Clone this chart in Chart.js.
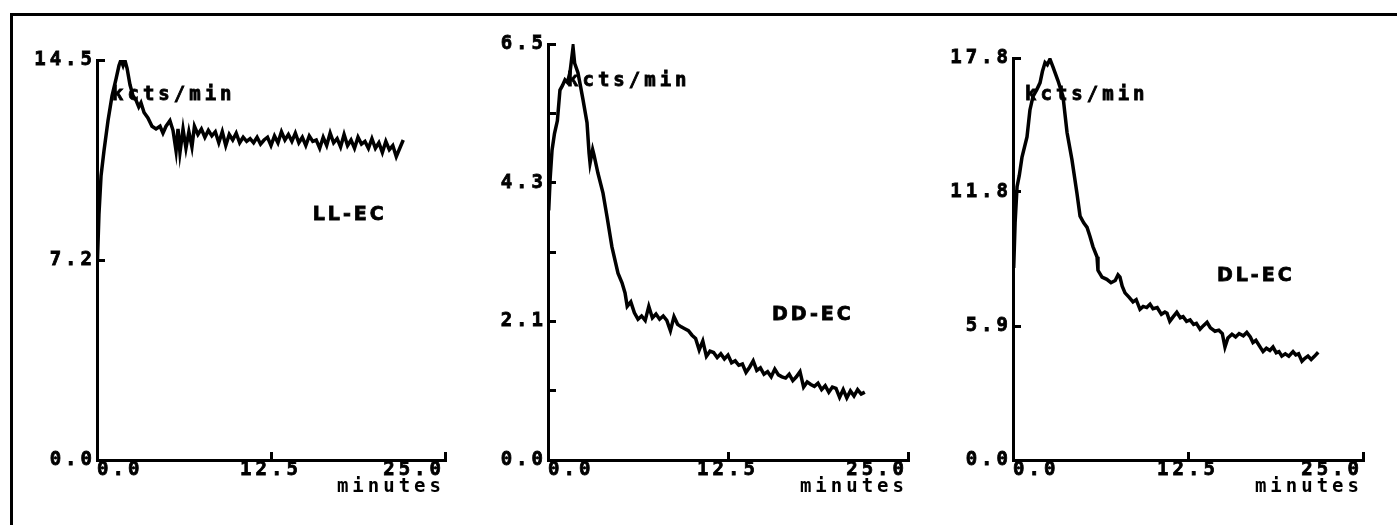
<!DOCTYPE html>
<html>
<head>
<meta charset="utf-8">
<script src="https://cdn.jsdelivr.net/npm/chart.js@4.4.1/dist/chart.umd.min.js"></script>
<style>
  body { margin: 0; background: #fff; width: 1397px; height: 525px; overflow: hidden; position: relative; }
  #frame { position: absolute; left: 10px; top: 13px; width: 1400px; height: 600px; border-left: 3px solid #000; border-top: 3px solid #000; }
  canvas { position: absolute; top: 0; }
</style>
</head>
<body>
<div id="frame"></div>
<canvas id="c1" width="468" height="525" style="left:2px"></canvas>
<canvas id="c2" width="480" height="525" style="left:453px"></canvas>
<canvas id="c3" width="470" height="525" style="left:918px"></canvas>
<script>
// x axis (minutes), shared by the three panels
const xTicks = [0, 12.5, 25];
const xTickLabels = ['0.0', '12.5', '25.0'];

// LL-EC
const llTimes = [0.03, 0.14, 0.29, 0.5, 0.79, 1.08, 1.36, 1.58, 1.72, 1.87, 2.0, 2.16, 2.37, 2.59, 2.8,
  3.0, 3.16, 3.38, 3.66, 3.95, 4.24, 4.53, 4.74, 4.96, 5.24, 5.46, 5.68, 5.82, 5.96, 6.18, 6.39, 6.6, 6.82,
  7.0, 7.25, 7.5, 7.75, 8.0, 8.25, 8.5, 8.75, 9.0, 9.25, 9.5, 9.75, 10.0, 10.25, 10.5, 10.75,
  11.0, 11.25, 11.5, 11.75, 12.0, 12.25, 12.5, 12.75, 13.0, 13.25, 13.5, 13.75, 14.0, 14.25, 14.5, 14.75,
  15.0, 15.25, 15.5, 15.75, 16.0, 16.25, 16.5, 16.75, 17.0, 17.25, 17.5, 17.75, 18.0, 18.25, 18.5, 18.75,
  19.0, 19.25, 19.5, 19.75, 20.0, 20.25, 20.5, 20.75, 21.0, 21.25, 21.5, 21.75, 22.0];
const llValues = [7.2, 8.9, 10.3, 11.2, 12.3, 13.2, 13.8, 14.3, 14.5, 14.3, 14.5, 14.2, 13.6, 13.2, 13.05,
  12.8, 12.95, 12.6, 12.4, 12.1, 12.0, 12.1, 11.85, 12.1, 12.3, 11.95, 11.2, 12.0, 11.15, 12.0, 11.3, 11.9, 11.35,
  12.1, 11.8, 12.0, 11.7, 11.95, 11.75, 11.9, 11.5, 11.9, 11.4, 11.8, 11.6, 11.85, 11.5, 11.7, 11.55,
  11.65, 11.5, 11.7, 11.45, 11.6, 11.7, 11.4, 11.75, 11.5, 11.9, 11.6, 11.8, 11.55, 11.85, 11.5, 11.7,
  11.4, 11.75, 11.55, 11.6, 11.3, 11.7, 11.4, 11.85, 11.5, 11.65, 11.35, 11.8, 11.4, 11.6, 11.3, 11.7,
  11.45, 11.55, 11.3, 11.65, 11.3, 11.5, 11.15, 11.55, 11.25, 11.4, 11.0, 11.3, 11.6];
const llYTicks = [0, 7.25, 14.5];
const llYLabels = ['0.0', '7.2', '14.5'];

// DD-EC
const ddTimes = [0.05, 0.15, 0.28, 0.45, 0.65, 0.83, 1.0, 1.18, 1.35, 1.53, 1.74, 1.85, 2.08, 2.25, 2.43, 2.71,
  2.85, 2.92, 3.1, 3.19, 3.47, 3.82, 4.1, 4.44, 4.86, 5.14, 5.35,
  5.5, 5.75, 6.0, 6.25, 6.5, 6.75, 7.0, 7.25, 7.5, 7.75, 8.0, 8.25, 8.5, 8.75, 9.0, 9.25, 9.5, 9.75,
  10.0, 10.25, 10.5, 10.75, 11.0, 11.25, 11.5, 11.75, 12.0, 12.25, 12.5, 12.75, 13.0, 13.25, 13.5, 13.75,
  14.0, 14.25, 14.5, 14.75, 15.0, 15.25, 15.5, 15.75, 16.0, 16.25, 16.5, 16.75, 17.0, 17.25, 17.5, 17.75,
  18.0, 18.25, 18.5, 18.75, 19.0, 19.25, 19.5, 19.75, 20.0, 20.25, 20.5, 20.75, 21.0, 21.25, 21.5, 21.75, 22.0];
const ddValues = [3.9, 4.4, 4.84, 5.1, 5.3, 5.78, 5.85, 5.94, 5.9, 6.06, 6.45, 6.2, 6.05, 5.85, 5.63, 5.27,
  4.8, 4.64, 4.85, 4.77, 4.48, 4.17, 3.8, 3.33, 2.92, 2.77, 2.61,
  2.40, 2.47, 2.30, 2.20, 2.25, 2.18, 2.40, 2.22, 2.28, 2.20, 2.25, 2.18, 2.02, 2.24, 2.12, 2.08, 2.05, 2.02,
  1.95, 1.90, 1.72, 1.86, 1.62, 1.70, 1.68, 1.60, 1.66, 1.58, 1.64, 1.52, 1.55, 1.48, 1.50, 1.37,
  1.45, 1.55, 1.40, 1.44, 1.34, 1.38, 1.30, 1.42, 1.33, 1.30, 1.28, 1.34, 1.24, 1.30, 1.38, 1.14,
  1.22, 1.18, 1.15, 1.20, 1.10, 1.16, 1.06, 1.14, 1.12, 0.98, 1.10, 0.97, 1.08, 1.00, 1.10, 1.03, 1.06];
const ddYTicks = [0, 1.0833, 2.1667, 3.25, 4.3333, 5.4167, 6.5];
const ddYLabels = ['0.0', '', '2.1', '', '4.3', '', '6.5'];

// DL-EC
const dlTimes = [0.05, 0.15, 0.29, 0.45, 0.64, 1.0, 1.21, 1.43, 1.7, 1.93, 2.1, 2.29, 2.45, 2.64, 2.86, 3.21,
  3.57, 3.86, 4.21, 4.57, 4.79, 5.05, 5.29, 5.5, 5.71, 6.0, 6.07, 6.36, 6.7, 7.0, 7.3, 7.5, 7.64, 7.8,
  8.0, 8.3, 8.57, 8.8, 9.07, 9.3, 9.55, 9.79, 10.0, 10.3, 10.6, 10.85, 11.0, 11.2, 11.45, 11.7, 11.95,
  12.15, 12.4, 12.65, 12.9, 13.1, 13.36, 13.6, 13.86, 14.1, 14.43, 14.7, 14.95, 15.14, 15.35, 15.64, 15.9,
  16.15, 16.45, 16.7, 16.95, 17.14, 17.35, 17.6, 17.86, 18.1, 18.35, 18.57, 18.8, 19.0, 19.2, 19.45, 19.7,
  20.0, 20.2, 20.4, 20.64, 20.85, 21.07, 21.3, 21.55, 21.8];
const dlValues = [8.5, 10.5, 12.1, 12.6, 13.4, 14.3, 15.5, 16.1, 16.4, 16.7, 17.2, 17.6, 17.5, 17.75, 17.4, 16.8,
  16.1, 14.5, 13.3, 11.8, 10.8, 10.5, 10.3, 9.9, 9.45, 9.0, 8.4, 8.1, 8.0, 7.85, 7.95, 8.2, 8.1, 7.7,
  7.4, 7.2, 7.0, 7.1, 6.67, 6.8, 6.75, 6.9, 6.7, 6.75, 6.45, 6.55, 6.5, 6.14, 6.35, 6.54, 6.3,
  6.35, 6.14, 6.2, 6.0, 6.05, 5.79, 5.95, 6.1, 5.85, 5.7, 5.75, 5.6, 5.0, 5.4, 5.57, 5.45,
  5.6, 5.5, 5.65, 5.45, 5.2, 5.3, 5.05, 4.8, 4.95, 4.85, 5.0, 4.75, 4.8, 4.6, 4.7, 4.6,
  4.8, 4.65, 4.7, 4.37, 4.5, 4.6, 4.45, 4.6, 4.77];
const dlYTicks = [0, 5.9333, 11.8667, 17.8];
const dlYLabels = ['0.0', '5.9', '11.8', '17.8'];

const tickFont = { family: "'DejaVu Sans Mono', monospace", size: 19, weight: 'bold' };

// plotter-style wide lettering
const spacing = {
  id: 'spacing',
  beforeDraw(chart) { chart.ctx.letterSpacing = '4px'; }
};

// free text placed in data coordinates
const plotText = {
  id: 'plotText',
  afterDatasetsDraw(chart, args, opts) {
    const { ctx, scales: { x, y } } = chart;
    ctx.save();
    ctx.fillStyle = '#000';
    ctx.strokeStyle = '#000';
    ctx.lineWidth = 0.8;
    ctx.textAlign = 'left';
    ctx.textBaseline = 'middle';
    opts.items.forEach(it => {
      ctx.font = it.font;
      ctx.letterSpacing = it.spacing;
      const px = x.getPixelForValue(it.x), py = y.getPixelForValue(it.y);
      ctx.fillText(it.text, px, py);
      ctx.strokeText(it.text, px, py);
    });
    ctx.restore();
  }
};

function makeChart(id, times, values, yMax, yTicks, yLabels, top, items) {
  const axisGrid = { display: true, drawOnChartArea: false, drawTicks: true, tickLength: -8, tickWidth: 3, color: '#000' };
  const axisBorder = { display: true, color: '#000', width: 3 };
  return new Chart(document.getElementById(id), {
    type: 'line',
    data: {
      datasets: [{
        data: times.map((t, i) => ({ x: t, y: values[i] })),
        borderColor: '#000',
        borderWidth: 3.5,
        pointRadius: 0,
        tension: 0,
        fill: false
      }]
    },
    options: {
      responsive: false,
      animation: false,
      devicePixelRatio: 1,
      layout: { padding: { left: 0, right: 25, top: top, bottom: 15 } },
      plugins: {
        legend: { display: false },
        tooltip: { enabled: false },
        plotText: { items: items }
      },
      scales: {
        x: {
          type: 'linear', min: 0, max: 25,
          afterBuildTicks: s => { s.ticks = xTicks.map(v => ({ value: v })); },
          afterFit: s => { s.height = 50; },
          ticks: { align: 'inner', padding: 7, maxRotation: 0, autoSkip: false, color: '#000', font: tickFont,
                   textStrokeColor: '#000', textStrokeWidth: 0.8,
                   callback: (v, i) => xTickLabels[i] },
          grid: axisGrid,
          border: axisBorder,
          title: { display: true, text: 'minutes', align: 'end', color: '#000', font: tickFont, padding: { top: 0, bottom: 12 } }
        },
        y: {
          min: 0, max: yMax,
          afterBuildTicks: s => { s.ticks = yTicks.map(v => ({ value: v })); },
          afterFit: s => { s.width = 95; },
          ticks: { padding: 9, autoSkip: false, color: '#000', font: tickFont,
                   textStrokeColor: '#000', textStrokeWidth: 0.8,
                   callback: (v, i) => yLabels[i] },
          grid: axisGrid,
          border: axisBorder
        }
      }
    },
    plugins: [spacing, plotText]
  });
}

const unitFont = "bold 19px 'DejaVu Sans Mono'";
const tagFont = "bold 19px 'DejaVu Sans'";

makeChart('c1', llTimes, llValues, 14.5, llYTicks, llYLabels, 60, [
  { text: 'kcts/min', x: 1.08, y: 13.23, font: unitFont, spacing: '4px' },
  { text: 'LL-EC', x: 15.5, y: 8.88, font: tagFont, spacing: '3px' }
]);
makeChart('c2', ddTimes, ddValues, 6.5, ddYTicks, ddYLabels, 44, [
  { text: 'kcts/min', x: 1.32, y: 5.92, font: unitFont, spacing: '4px' },
  { text: 'DD-EC', x: 15.56, y: 2.27, font: tagFont, spacing: '3px' }
]);
makeChart('c3', dlTimes, dlValues, 17.8, dlYTicks, dlYLabels, 58, [
  { text: 'kcts/min', x: 0.86, y: 16.16, font: unitFont, spacing: '4px' },
  { text: 'DL-EC', x: 14.57, y: 8.15, font: tagFont, spacing: '3px' }
]);
</script>
</body>
</html>
